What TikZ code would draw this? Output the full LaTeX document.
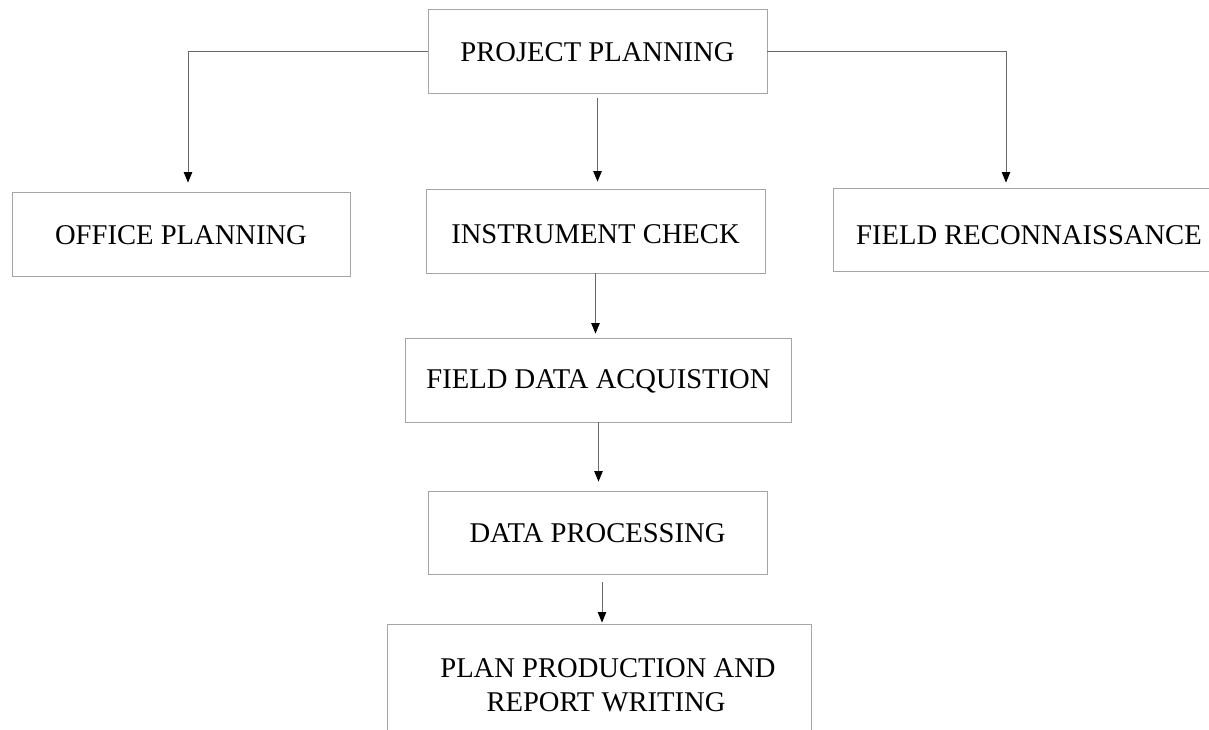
\documentclass[tikz,border=0pt]{standalone}
\usepackage{fontspec}
\setmainfont{Liberation Serif}
\usetikzlibrary{arrows.meta}
\definecolor{boxline}{RGB}{165,165,165}
\definecolor{conn}{RGB}{105,105,105}
\newcommand{\lowertext}[2]{\raisebox{-#1}[\height][\depth]{#2}}
\begin{document}
\begin{tikzpicture}[x=1pt,y=-1pt,
  stepbox/.style={draw=boxline, line width=0.9pt, inner sep=0pt,
    font=\fontsize{28.6}{34}\selectfont, align=center},
  conline/.style={draw=conn, line width=0.8pt},
  arr/.style={conline, -{Triangle[width=8.5pt,length=10.5pt,fill=black,color=black]}}]
\useasboundingbox (0,0) rectangle (1209,730);
\fill[white] (0,0) rectangle (1209,730);

\node[stepbox, minimum width=339pt, minimum height=84pt] (pp)  at (597.5,51)  {\lowertext{1pt}{PROJECT PLANNING}};
\node[stepbox, minimum width=338pt, minimum height=84pt] (op)  at (181,234)   {\lowertext{1pt}{OFFICE PLANNING}};
\node[stepbox, minimum width=339pt, minimum height=84pt] (ic)  at (595.5,231) {\lowertext{3pt}{INSTRUMENT CHECK}};
\node[stepbox, minimum width=392pt, minimum height=83pt] (fr)  at (1029,229.5) {\lowertext{6pt}{FIELD RECONNAISSANCE}};
\node[stepbox, minimum width=386pt, minimum height=84pt] (fda) at (598.5,380)  {\lowertext{1pt}{FIELD DATA ACQUISTION}};
\node[stepbox, minimum width=339pt, minimum height=83pt] (dp)  at (597.5,532.5) {\lowertext{1pt}{DATA PROCESSING}};
\node[stepbox, minimum width=424pt, minimum height=122pt] (ppr) at (599,685) {\hspace*{18pt}PLAN PRODUCTION AND\\\hspace*{14pt}REPORT WRITING};

\draw[arr, shorten >=9pt] (pp.west) -| ([xshift=7pt]op.north);
\draw[arr, shorten >=5pt] (pp.east) -| ([xshift=-23pt]fr.north);
\draw[arr, shorten <=5pt, shorten >=7pt] (pp.south) -- (pp.south |- ic.north);
\draw[arr, shorten >=4pt] (ic.south) -- (ic.south |- fda.north);
\draw[arr, shorten >=9pt] (fda.south) -- (fda.south |- dp.north);
\draw[arr, shorten <=8pt, shorten >=1pt] ([xshift=4.5pt]dp.south) -- ([xshift=4.5pt]dp.south |- ppr.north);
\end{tikzpicture}
\end{document}
